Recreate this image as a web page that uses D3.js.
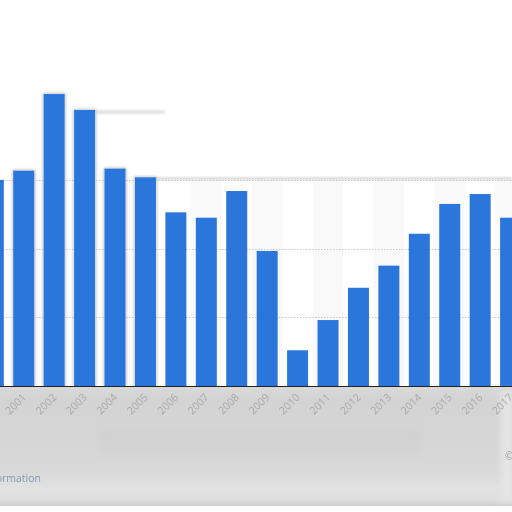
<!DOCTYPE html>
<html><head><meta charset="utf-8">
<script src="https://cdn.jsdelivr.net/npm/d3@7"></script>
<style>html,body{margin:0;padding:0;background:#fff;overflow:hidden}svg{display:block}</style>
</head><body>
<svg id="c" width="512" height="512"></svg>
<script>
const years = ["2000","2001","2002","2003","2004","2005","2006","2007","2008","2009","2010","2011","2012","2013","2014","2015","2016","2017"];
const values = [150,156.7,212.5,200.9,158.2,151.9,126.4,122.5,141.9,98.3,26,48,71.5,87.6,110.8,132.5,139.7,122.5];
const gridTicks = [50,100,150];
const svg = d3.select("#c");
const defs = svg.append("defs");
defs.append("filter").attr("id","b1").attr("x","-20%").attr("y","-50%").attr("width","140%").attr("height","200%")
  .append("feGaussianBlur").attr("stdDeviation",1.2);
defs.append("filter").attr("id","b4").attr("x","-10%").attr("y","-10%").attr("width","120%").attr("height","120%")
  .append("feGaussianBlur").attr("stdDeviation",3);
const lg = defs.append("linearGradient").attr("id","fg").attr("x1",0).attr("y1",0).attr("x2",0).attr("y2",1);
[[0,"#d9d9d9"],[0.1,"#d3d3d3"],[0.45,"#d6d6d6"],[0.7,"#d8d8d8"],[0.85,"#e2e2e2"],[0.95,"#dedede"],[1,"#cfcfcf"]]
  .forEach(([o,c])=>lg.append("stop").attr("offset",o).attr("stop-color",c));

const x = d3.scaleBand().domain(years).range([-21.9,525.8]).paddingInner(0.31).paddingOuter(0.155);
const y = d3.scaleLinear().domain([0,50]).range([386,317.3]);

// faint alternating column bands
svg.append("g").selectAll("rect").data(years.filter((d,i)=>i>=6 && i%2===0)).join("rect")
  .attr("x",d=>x(d)+x.bandwidth()+ (x.step()-x.bandwidth())/2)
  .attr("y",y(150)).attr("width",x.step()).attr("height",y(0)-y(150)).attr("fill","#f9f9f9");

// gridlines
svg.append("g").selectAll("line").data(gridTicks).join("line")
  .attr("x1",0).attr("x2",512).attr("y1",d=>Math.round(y(d))+0.5).attr("y2",d=>Math.round(y(d))+0.5)
  .attr("stroke","#c8c8c8").attr("stroke-dasharray","1.5,1.5").attr("stroke-width",1);

// overlay shadow edge
const sh = svg.append("g").attr("filter","url(#b1)").attr("fill","none").attr("stroke","#bdbdbd").attr("stroke-width",1.5);
sh.append("line").attr("x1",x("2005")+x.bandwidth()).attr("x2",512).attr("y1",178.5).attr("y2",178.5);
sh.append("line").attr("x1",x("2003")+x.bandwidth()).attr("x2",165).attr("y1",y(values[3])+2).attr("y2",y(values[3])+2).attr("stroke","#dcdcdc").attr("stroke-width",3);
["2001","2002","2003","2004","2005"].forEach(k=>{
  const i = years.indexOf(k);
  sh.append("rect").attr("x",x(k)-0.5).attr("y",y(values[i])-0.5).attr("width",x.bandwidth()+1).attr("height",y(0)-y(values[i])).attr("rx",1.5);
});

// bars
svg.append("g").selectAll("rect").data(years).join("rect")
  .attr("x",d=>x(d)).attr("width",x.bandwidth())
  .attr("y",(d,i)=>y(values[i])).attr("height",(d,i)=>y(0)-y(values[i]))
  .attr("fill","#2a76da");

// footer
svg.append("rect").attr("x",0).attr("y",387).attr("width",512).attr("height",119).attr("fill","url(#fg)");
const ft = svg.append("g").attr("filter","url(#b4)");
ft.append("rect").attr("x",100).attr("y",430).attr("width",320).attr("height",22).attr("fill","#cfcfcf").attr("opacity",0.6);
ft.append("rect").attr("x",500).attr("y",390).attr("width",14).attr("height",112).attr("fill","#e4e4e4");
svg.append("rect").attr("x",0).attr("y",506).attr("width",512).attr("height",6).attr("fill","#fff");

// baseline
svg.append("line").attr("x1",0).attr("x2",512).attr("y1",386.5).attr("y2",386.5).attr("stroke","#222").attr("stroke-width",1);

// axis labels
const ax = svg.append("g").attr("transform","translate(0,386)").call(d3.axisBottom(x).tickSize(0).tickPadding(0));
ax.select(".domain").remove();
ax.selectAll("text").attr("fill","#a9a9a9").attr("font-family","'Open Sans',sans-serif").attr("font-size",10.5)
  .attr("text-anchor","end").attr("dy",0).attr("transform","translate(3,12) rotate(-45)");

svg.append("text").attr("x",41).attr("y",482).attr("text-anchor","end").attr("fill","#7b9bb2")
  .attr("font-family","'Open Sans',sans-serif").attr("font-size",10.5).text("Additional Information");
svg.append("text").attr("x",505).attr("y",460).attr("fill","#9a9a9a")
  .attr("font-family","'Open Sans',sans-serif").attr("font-size",10).text("© Statista 2018");
</script>
</body></html>
